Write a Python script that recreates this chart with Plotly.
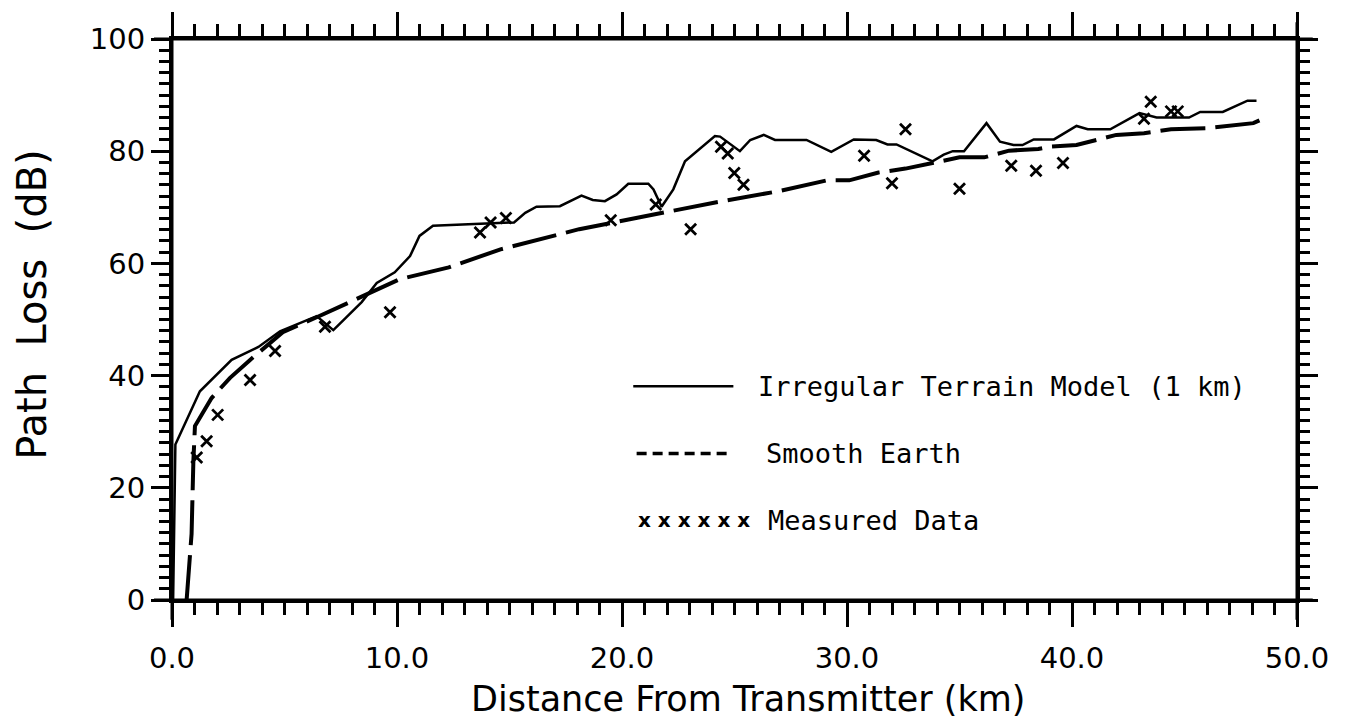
import plotly.graph_objects as go

# ---------------- data ----------------
itm_km = [0.05, 0.15, 1.24, 2.65, 3.84, 4.8, 6.43, 7.17, 7.7, 8.43, 9.1, 9.9, 10.58, 11.0, 11.6,
          15.2, 15.7, 16.2, 17.24, 18.2, 18.7, 19.24, 19.76, 20.28, 21.17, 21.4, 21.76, 22.28,
          22.8, 24.13, 24.36, 25.24, 25.7, 26.3, 26.8, 28.2, 29.3, 30.3, 31.3, 31.8, 32.2,
          33.8, 34.3, 34.7, 35.2, 35.76, 36.2, 36.8, 37.4, 37.8, 38.3, 39.2, 40.2, 40.7,
          41.7, 43.0, 43.76, 45.2, 45.7, 46.7, 47.8, 48.2]
itm_db = [0.0, 27.7, 37.2, 42.8, 45.1, 47.9, 50.6, 48.1, 50.2, 53.1, 56.5, 58.4, 61.3, 64.9, 66.7,
          67.3, 69.0, 70.1, 70.2, 72.1, 71.3, 71.1, 72.3, 74.2, 74.2, 73.2, 70.1, 73.2,
          78.2, 82.7, 82.6, 80.0, 82.0, 82.9, 82.0, 82.0, 79.9, 82.1, 82.0, 81.2, 81.2,
          78.2, 79.4, 80.0, 80.0, 82.9, 85.0, 81.7, 81.1, 81.1, 82.1, 82.1, 84.5, 83.9,
          83.9, 86.8, 86.0, 86.0, 87.0, 87.0, 89.0, 89.0]

smooth_km = [0.65, 0.87, 0.95, 1.02, 1.76, 2.58, 3.47, 4.95, 6.43, 7.76, 8.9, 10.13, 12.3,
             14.6, 18.1, 20.5, 24.2, 27.0, 29.1, 30.1, 30.6, 31.4, 32.6, 33.8, 35.0, 36.1,
             37.2, 38.5, 39.0, 40.2, 41.97, 43.2, 44.4, 46.0, 48.06, 48.6]
smooth_db = [0.0, 11.8, 24.8, 31.0, 36.0, 39.6, 42.8, 47.8, 50.4, 52.8, 54.8, 57.2, 59.3,
             62.5, 66.1, 68.0, 70.9, 72.9, 74.8, 74.8, 75.4, 76.2, 76.9, 77.9, 78.9, 78.9,
             80.1, 80.4, 80.8, 81.1, 82.9, 83.2, 83.9, 84.1, 85.0, 86.0]

meas_km = [1.1, 1.54, 2.03, 3.47, 4.58, 6.8, 9.69, 13.69, 14.16, 14.84, 19.5, 21.5, 23.05,
           24.4, 24.7, 24.99, 25.4, 30.76, 32.0, 32.6, 35.0, 37.3, 38.4, 39.6, 43.2, 43.5,
           44.4, 44.7]
meas_db = [25.4, 28.3, 33.0, 39.2, 44.4, 48.7, 51.3, 65.5, 67.3, 68.1, 67.7, 70.5, 66.1,
           80.8, 79.6, 76.1, 74.0, 79.2, 74.3, 83.9, 73.3, 77.4, 76.5, 77.9, 85.8, 88.8,
           87.1, 87.1]

legend_labels = ["Irregular Terrain Model (1 km)", "Smooth Earth", "Measured Data"]
x_title = "Distance From Transmitter (km)"
y_title = "Path  Loss  (dB)"

# ---------------- figure ----------------
fig = go.Figure()
fig.add_trace(go.Scatter(x=itm_km, y=itm_db, mode="lines", name=legend_labels[0],
                         line=dict(color="black", width=2.5)))
fig.add_trace(go.Scatter(x=smooth_km, y=smooth_db, mode="lines", name=legend_labels[1],
                         line=dict(color="black", width=4, dash="45px,10px")))
fig.add_trace(go.Scatter(x=meas_km, y=meas_db, mode="markers", name=legend_labels[2],
                         marker=dict(symbol="x-thin", size=11, color="black",
                                     line=dict(color="black", width=2.8))))

tick_font = dict(family="DejaVu Sans", size=29, color="black")
fig.update_xaxes(range=[0, 50], dtick=10, tick0=0, tickformat=".1f",
                 ticks="outside", ticklen=24, tickwidth=2.5, tickcolor="black",
                 minor=dict(dtick=1, ticks="outside", ticklen=12, tickwidth=2.5, tickcolor="black"),
                 showline=True, linewidth=3, linecolor="black", mirror="ticks",
                 showgrid=False, zeroline=False, tickfont=tick_font, ticklabelstandoff=6)
fig.update_yaxes(range=[0, 100], dtick=20, tick0=0,
                 ticks="outside", ticklen=18, tickwidth=2.5, tickcolor="black",
                 minor=dict(dtick=2, ticks="outside", ticklen=10, tickwidth=2.5, tickcolor="black"),
                 showline=True, linewidth=3, linecolor="black", mirror="ticks",
                 showgrid=False, zeroline=False, tickfont=tick_font, ticklabelstandoff=0)

# frame overshoot at corners
ext = dict(color="black", width=3)
fig.add_shape(type="line", xref="paper", yref="paper", x0=-0.016, x1=1.014, y0=0, y1=0, line=ext)
fig.add_shape(type="line", xref="paper", yref="paper", x0=-0.016, x1=1.014, y0=1, y1=1, line=ext)
fig.add_shape(type="line", xref="paper", yref="paper", x0=0, x1=0, y0=-0.035, y1=1.0, line=ext)
fig.add_shape(type="line", xref="paper", yref="paper", x0=1, x1=1, y0=-0.035, y1=1.03, line=ext)

# custom legend
leg_font = dict(family="DejaVu Sans Mono", size=27, color="black")
fig.add_shape(type="line", xref="paper", yref="paper", x0=0.410, x1=0.499, y0=0.381, y1=0.381,
              line=dict(color="black", width=2.5))
fig.add_shape(type="line", xref="paper", yref="paper", x0=0.413, x1=0.496, y0=0.261, y1=0.261,
              line=dict(color="black", width=3.5, dash="10px,6px"))
fig.add_annotation(xref="paper", yref="paper", x=0.519, y=0.381, xanchor="left", yanchor="middle",
                   text=legend_labels[0], showarrow=False, font=leg_font)
fig.add_annotation(xref="paper", yref="paper", x=0.526, y=0.261, xanchor="left", yanchor="middle",
                   text=legend_labels[1], showarrow=False, font=leg_font)
fig.add_annotation(xref="paper", yref="paper", x=0.412, y=0.142, xanchor="left", yanchor="middle",
                   text="<b>x x x x x x</b>", showarrow=False,
                   font=dict(family="DejaVu Sans", size=20, color="black"))
fig.add_annotation(xref="paper", yref="paper", x=0.528, y=0.142, xanchor="left", yanchor="middle",
                   text=legend_labels[2], showarrow=False, font=leg_font)

# axis titles
fig.add_annotation(xref="paper", yref="paper", x=0.512, y=-0.176, xanchor="center", yanchor="middle",
                   text=x_title, showarrow=False,
                   font=dict(family="DejaVu Sans", size=35, color="black"))
fig.add_annotation(xref="paper", yref="paper", x=-0.124, y=0.527, xanchor="center", yanchor="middle",
                   text=y_title, textangle=-90, showarrow=False,
                   font=dict(family="DejaVu Sans", size=40, color="black"))

fig.update_layout(width=1348, height=721, showlegend=False,
                  margin=dict(l=172, r=51, t=36, b=121),
                  paper_bgcolor="white", plot_bgcolor="white")

fig.write_html("out.html", config={"displayModeBar": False},
               post_script="document.body.style.margin='0px';")
